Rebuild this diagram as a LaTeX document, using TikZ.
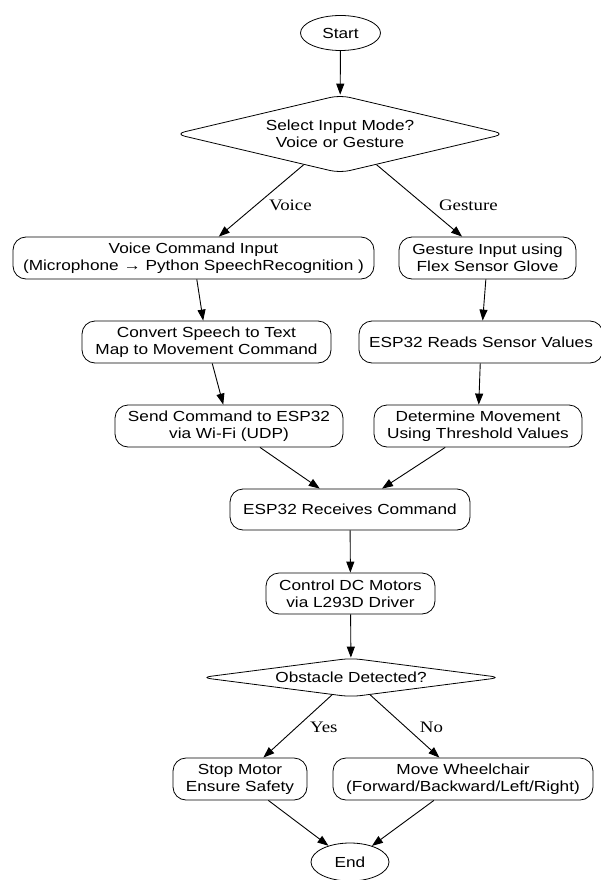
\documentclass[tikz,border=0pt]{standalone}
\usepackage{fontspec}
\setmainfont{Liberation Sans}[FakeStretch=1.18]
\newfontfamily\edgefont{Liberation Serif}[FakeStretch=1.18]
\usetikzlibrary{shapes.geometric, arrows.meta}

\tikzset{
  box/.style={draw, line width=0.8pt, rounded corners=13pt, align=center, inner sep=0pt, minimum height=42pt},
  term/.style={draw, line width=0.8pt, ellipse, inner sep=0pt},
  ask/.style={draw, line width=0.8pt, diamond, rounded corners=10pt, align=center, inner sep=0pt},
  flow/.style={line width=0.9pt, -{Triangle[length=11pt, width=8pt]}},
  tag/.style={font=\edgefont\fontsize{16}{18}\selectfont, right=10pt}
}

\begin{document}
\begin{tikzpicture}[x=1pt, y=-1pt, font=\fontsize{14.6}{17}\selectfont]
    \useasboundingbox (0,0) rectangle (600,880);

    % Start and mode choice
    \node[term, minimum width=80pt, minimum height=35pt] (start) at (340.5,33) {Start};
    \node[ask, aspect=4.2, minimum width=330pt, minimum height=78pt] (mode) at (340,134) {Select Input Mode?\\Voice or Gesture};

    % Voice branch
    \node[box, minimum width=361pt] (voice) at (193.5,258) {Voice Command Input\\(Microphone → Python SpeechRecognition )};
    \node[box, minimum width=249pt] (convert) at (206.5,342) {Convert Speech to Text\\Map to Movement Command};
    \node[box, minimum width=228pt] (send) at (229,426) {Send Command to ESP32\\via Wi-Fi (UDP)};

    % Gesture branch
    \node[box, minimum width=177pt] (glove) at (487.5,258) {Gesture Input using\\Flex Sensor Glove};
    \node[box, minimum width=244pt] (reads) at (481,342) {ESP32 Reads Sensor Values};
    \node[box, minimum width=208pt] (thresh) at (478,426) {Determine Movement\\Using Threshold Values};

    % Common part
    \node[box, minimum width=240pt, minimum height=41pt] (recv) at (350,509.5) {ESP32 Receives Command};
    \node[box, minimum width=169pt, minimum height=41pt] (motors) at (350.5,593.5) {Control DC Motors\\via L293D Driver};
    \node[ask, aspect=7.7, minimum width=300pt, minimum height=39pt] (obst) at (351,677.5) {Obstacle Detected?};
    \node[box, minimum width=134pt] (stop) at (240,779) {Stop Motor\\Ensure Safety};
    \node[box, minimum width=260pt] (move) at (463,779) {Move Wheelchair\\(Forward/Backward/Left/Right)};
    \node[term, minimum width=78pt, minimum height=38pt] (end) at (350,862) {End};

    \draw[flow] (start) -- (mode);
    \draw[flow] (mode) -- node[tag, pos=0.57] {Voice} (voice);
    \draw[flow] (mode) -- node[tag, pos=0.57] {Gesture} (glove);
    \draw[flow] (voice) -- (convert);
    \draw[flow] (convert) -- (send);
    \draw[flow] (glove) -- (reads);
    \draw[flow] (reads) -- (thresh);
    \draw[flow] (send) -- (recv);
    \draw[flow] (thresh) -- (recv);
    \draw[flow] (recv) -- (motors);
    \draw[flow] (motors) -- (obst);
    \draw[flow] (obst) -- node[tag, pos=0.52] {Yes} (stop);
    \draw[flow] (obst) -- node[tag, pos=0.52] {No} (move);
    \draw[flow] (stop) -- (end);
    \draw[flow] (move) -- (end);
\end{tikzpicture}
\end{document}
